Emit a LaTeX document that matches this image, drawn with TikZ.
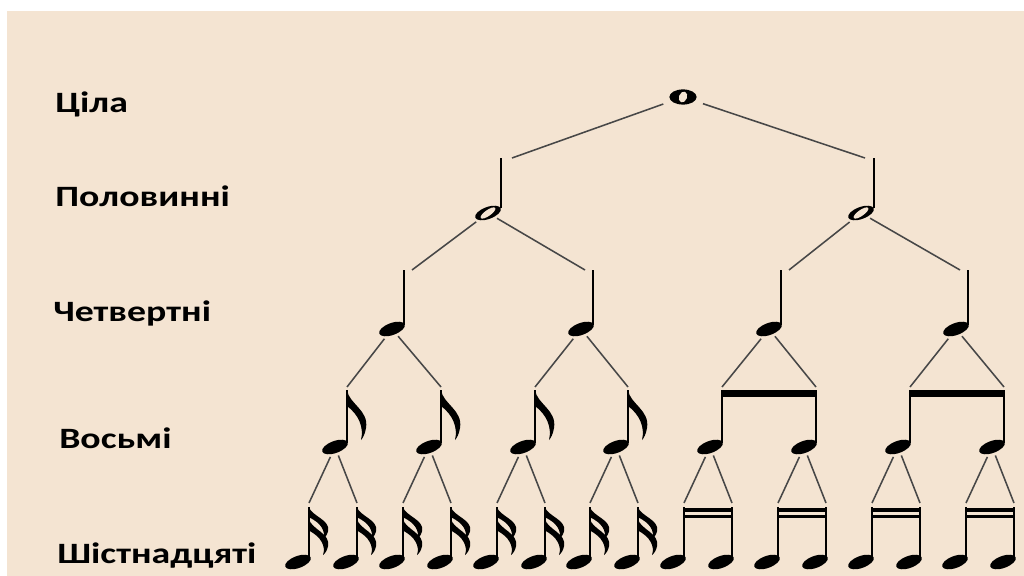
\documentclass[tikz,border=0pt]{standalone}
\usepackage{fontspec}
\setmainfont{Carlito}
\newfontfamily\lblfont[FakeStretch=1.28]{Carlito}
\usetikzlibrary{shapes.geometric}

\definecolor{paper}{HTML}{F4E4D2}

\tikzset{
  lbl/.style={anchor=base west,inner sep=0pt,font=\lblfont\bfseries\fontsize{21}{25}\selectfont},
  fullhead/.style={ellipse,fill=black,inner sep=0pt,minimum width=0.675cm,minimum height=0.3cm,rotate=20},
  holehead/.style={ellipse,fill=paper,inner sep=0pt},
  link/.style={draw=black!72,line width=1.1pt,shorten <=2pt},
  notestem/.style={line width=1.4pt}
}

% flag hanging from a stem top: x, y, length
\newcommand{\noteflag}[3]{%
  \fill (#1,#2) .. controls (#1+2,#2+0.28*#3) and (#1+22,#2+0.4*#3) .. (#1+19,#2+0.76*#3)
    .. controls (#1+18,#2+0.88*#3) and (#1+16,#2+0.96*#3) .. (#1+14,#2+#3)
    .. controls (#1+17,#2+0.75*#3) and (#1+12,#2+0.5*#3) .. (#1,#2+0.32*#3) -- cycle;}

\begin{document}
\begin{tikzpicture}[x=0.025cm,y=-0.025cm]
\useasboundingbox (0,0) rectangle (1024,576);
\fill[white] (0,0) rectangle (1024,576);
\fill[paper] (7,11) rectangle (1024,576);

% row names
\node[lbl] (lwhole) at (55,113) {Ціла};
\node[lbl] (lhalf) at (55,207) {Половинні};
\node[lbl] (lquarter) at (53,321) {Четвертні};
\node[lbl] (leighth) at (59,448) {Восьмі};
\node[lbl] (lsixteenth) at (57,563) {Шістнадцяті};

% whole
\node[ellipse,fill=black,inner sep=0pt,minimum width=0.68cm,minimum height=0.38cm] (w) at (683,97) {};
\node[holehead,minimum width=0.2cm,minimum height=0.28cm,rotate=-20] (whole) at (w) {};

% halves
\node[fullhead] (h1) at (488,213) {};
\node[holehead,minimum width=0.44cm,minimum height=0.15cm,rotate=35] (h1hole) at (h1) {};
\node[fullhead] (h2) at (861,213) {};
\node[holehead,minimum width=0.44cm,minimum height=0.15cm,rotate=35] (h2hole) at (h2) {};
\draw[notestem] (501,208) -- (501,158);
\draw[notestem] (874,208) -- (874,158);
\coordinate (he1) at (512,158);
\coordinate (he2) at (865,158);
\draw[link,shorten <=6pt] (w) -- (he1);
\draw[link,shorten <=6pt] (w) -- (he2);

% quarters
\foreach \n/\x/\d in {1/392/8,2/581/-8,3/769/8,4/956/-8}{
  \node[fullhead] (q\n) at (\x,329) {};
  \draw[notestem] (\x+12,325) -- (\x+12,270);
  \coordinate (qe\n) at (\x+12+\d,270);
}
\draw[link] (h1) -- (qe1);
\draw[link] (h1) -- (qe2);
\draw[link] (h2) -- (qe3);
\draw[link] (h2) -- (qe4);

% eighths
\foreach \n/\x in {1/335,2/429,3/523,4/616,5/710,6/804,7/898,8/992}{
  \node[fullhead] (e\n) at (\x,447) {};
  \draw[notestem] (\x+12,443) -- (\x+12,390);
  \coordinate (ee\n) at (\x+12,387);
}
\foreach \x in {347,441,535,628} {\noteflag{\x}{390}{50}}
\fill (721.3,390) rectangle (816.7,396.5);
\fill (909.3,390) rectangle (1004.7,396.5);
\foreach \q/\a/\b in {1/1/2,2/3/4,3/5/6,4/7/8}{
  \draw[link] (q\q) -- (ee\a);
  \draw[link] (q\q) -- (ee\b);
}

% sixteenths
\foreach \n/\x in {1/309,2/357,3/403,4/451,5/497,6/545,7/590,8/638,
                   9/684,10/732,11/778,12/826,13/872,14/920,15/966,16/1014}{
  \node[fullhead] (s\n) at (\x-11,562) {};
  \draw[notestem] (\x,558) -- (\x,507);
  \coordinate (se\n) at (\x,503);
}
\foreach \x in {309,357,403,451,497,545,590,638} {\noteflag{\x}{507}{32}\noteflag{\x}{519}{36}}
\foreach \a/\b in {684/732,778/826,872/920,966/1014}{
  \fill (\a-0.7,508) rectangle (\b+0.7,511.5);
  \fill (\a-0.7,514.5) rectangle (\b+0.7,518);
}
\foreach \e in {1,...,8}{
  \pgfmathtruncatemacro{\a}{2*\e-1}
  \pgfmathtruncatemacro{\b}{2*\e}
  \draw[link] (e\e) -- (se\a);
  \draw[link] (e\e) -- (se\b);
}
\end{tikzpicture}
\end{document}
